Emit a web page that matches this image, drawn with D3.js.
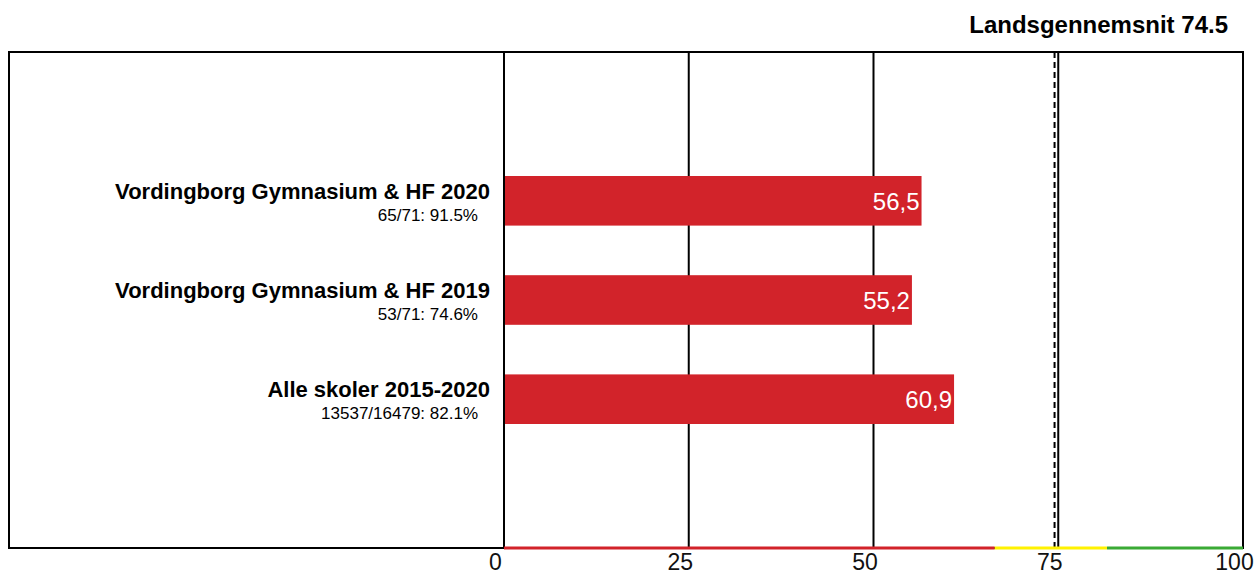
<!DOCTYPE html>
<html>
<head>
<meta charset="utf-8">
<script src="https://cdn.jsdelivr.net/npm/d3@7"></script>
<style>
  body { margin: 0; background: #fff; }
  svg { display: block; font-family: "Liberation Sans", Arial, sans-serif; }
</style>
</head>
<body>
<div id="chart"></div>
<script>
// Data
const schools = ["Vordingborg Gymnasium & HF 2020", "Vordingborg Gymnasium & HF 2019", "Alle skoler 2015-2020"];
const subLabels = ["65/71: 91.5%", "53/71: 74.6%", "13537/16479: 82.1%"];
const values = [56.5, 55.2, 60.9];
const ticks = [0, 25, 50, 75, 100];
const landsgennemsnit = 74.5;
// colour bands along the axis
const bandStops = [0, 66.4, 81.6, 100];
const bandColors = ["#d2232a", "#fff200", "#3aaa35"];

let width = 1256;
let height = 577;
let margin = {top: 52, bottom: 29, left: 504, right: 13};
let frameLeft = 9;

let svg = d3.select('#chart')
    .append('svg')
    .attr('width', width)
    .attr('height', height);

let x = d3.scaleLinear()
    .domain([0, 100])
    .range([margin.left, width - margin.right]);

let y = d3.scaleBand()
    .domain(schools)
    .range([margin.top, height - margin.bottom])
    .paddingInner(0.5)
    .paddingOuter(1.25);

let bottom = height - margin.bottom;

// frame
svg.append('rect')
    .attr('x', frameLeft)
    .attr('y', margin.top)
    .attr('width', x(100) - frameLeft)
    .attr('height', bottom - margin.top)
    .attr('fill', 'none')
    .attr('stroke', 'black')
    .attr('stroke-width', 2);

// vertical grid lines
svg.selectAll('.grid')
    .data(ticks)
    .enter()
    .append('line')
    .attr('x1', d => x(d))
    .attr('x2', d => x(d))
    .attr('y1', margin.top)
    .attr('y2', bottom)
    .attr('stroke', 'black')
    .attr('stroke-width', 2);

// bars
svg.selectAll('.bar')
    .data(values)
    .enter()
    .append('rect')
    .attr('x', x(0) + 1)
    .attr('y', (d, i) => y(schools[i]))
    .attr('width', d => x(d) - x(0) - 1)
    .attr('height', y.bandwidth())
    .attr('fill', '#d2232a');

// values inside bars
svg.selectAll('.val')
    .data(values)
    .enter()
    .append('text')
    .attr('x', d => x(d) - 2)
    .attr('y', (d, i) => y(schools[i]) + y.bandwidth() / 2 + 9)
    .attr('text-anchor', 'end')
    .attr('fill', 'white')
    .style('font-size', '24px')
    .text(d => d.toFixed(1).replace('.', ','));

// category labels
schools.forEach((s, i) => {
    let cy = y(s) + y.bandwidth() / 2;
    svg.append('text')
        .attr('x', 490)
        .attr('y', cy - 2)
        .attr('text-anchor', 'end')
        .style('font-size', '22px')
        .style('font-weight', 'bold')
        .text(s);
    svg.append('text')
        .attr('x', 478)
        .attr('y', cy + 20)
        .attr('text-anchor', 'end')
        .style('font-size', '17px')
        .text(subLabels[i]);
});

// landsgennemsnit dashed line
svg.append('line')
    .attr('x1', x(landsgennemsnit))
    .attr('x2', x(landsgennemsnit))
    .attr('y1', margin.top)
    .attr('y2', bottom)
    .attr('stroke', 'black')
    .attr('stroke-width', 2)
    .attr('stroke-dasharray', '6,4');

svg.append('text')
    .attr('x', 1228)
    .attr('y', 33)
    .attr('text-anchor', 'end')
    .style('font-size', '24px')
    .style('font-weight', 'bold')
    .text('Landsgennemsnit ' + landsgennemsnit);

// coloured bands on the axis
svg.selectAll('.band')
    .data(bandColors)
    .enter()
    .append('line')
    .attr('x1', (d, i) => x(bandStops[i]))
    .attr('x2', (d, i) => x(bandStops[i + 1]))
    .attr('y1', bottom)
    .attr('y2', bottom)
    .attr('stroke', d => d)
    .attr('stroke-width', 3);

// x axis labels
let xAxis = svg.append('g')
    .attr('transform', `translate(-9, ${bottom})`)
    .call(d3.axisBottom(x).tickValues(ticks).tickSize(0).tickPadding(6));
xAxis.select('.domain').remove();
xAxis.selectAll('text')
    .style('font-family', '"Liberation Sans", Arial, sans-serif')
    .style('font-size', '23px')
    .attr('fill', '#111');
</script>
</body>
</html>
